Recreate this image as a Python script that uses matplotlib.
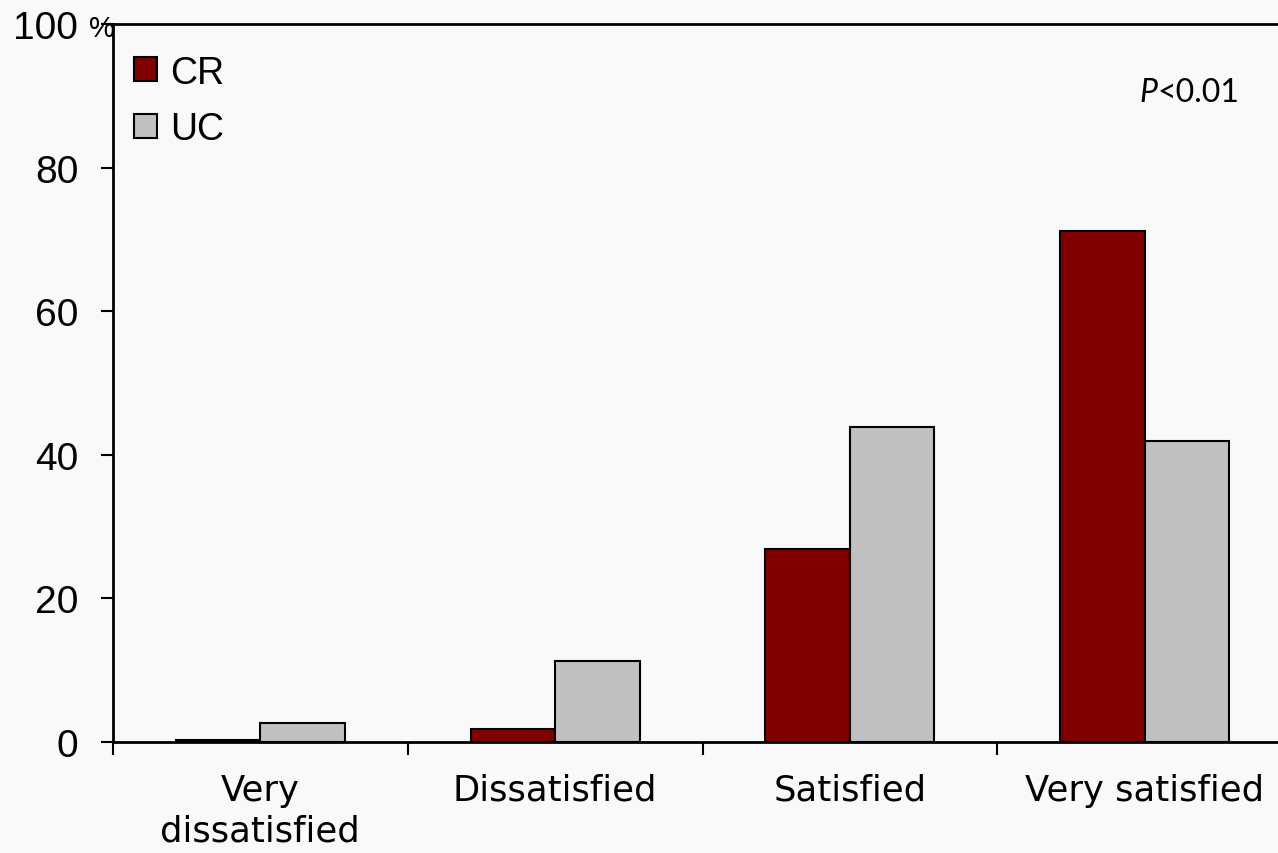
import matplotlib
matplotlib.use("Agg")
import matplotlib.pyplot as plt
import numpy as np

# satisfaction ratings, percent of respondents per group
categories = ["Very\ndissatisfied", "Dissatisfied", "Satisfied", "Very satisfied"]
cr_values = [0.3, 1.8, 26.9, 71.2]
uc_values = [2.6, 11.3, 43.9, 41.9]
y_ticks = [0, 20, 40, 60, 80, 100]

bg = "#f9f9f9"
fig = plt.figure(figsize=(12.78, 8.54), dpi=100, facecolor=bg)
ax = fig.add_axes([113 / 1278, 111 / 854, 1179 / 1278, 718 / 854], facecolor=bg)

x = np.arange(len(categories))
w = 0.287
ax.bar(x - w / 2, cr_values, w, color="#800000", edgecolor="black", linewidth=1.5, label="CR", zorder=3)
ax.bar(x + w / 2, uc_values, w, color="#c0c0c0", edgecolor="black", linewidth=1.5, label="UC", zorder=3)

ax.set_xlim(-0.5, len(categories) - 0.5)
ax.set_ylim(0, 100)

for s in ax.spines.values():
    s.set_linewidth(2)
    s.set_color("black")

ax.set_yticks(y_ticks)
ax.set_yticklabels([str(v) for v in y_ticks], fontsize=28, family="Liberation Sans")
ax.tick_params(axis="y", direction="out", length=9, width=1.5, pad=16)

# tick marks between categories, labels centred under each group
ax.set_xticks(np.arange(len(categories) + 1) - 0.5)
ax.set_xticklabels([])
ax.tick_params(axis="x", which="major", direction="out", length=9, width=1.5)
ax.set_xticks(x, minor=True)
ax.set_xticklabels(categories, minor=True, fontsize=25.5, family="DejaVu Sans", linespacing=1.25)
ax.tick_params(axis="x", which="minor", length=0, pad=22)

fig.text(89 / 1278, 1 - 29 / 854, "%", fontsize=21, family="Liberation Sans", ha="left", va="center")

ax.legend(loc="upper left", bbox_to_anchor=(-0.012, 1.007), frameon=False,
          prop={"family": "Liberation Sans", "size": 27},
          handlelength=0.6, handleheight=0.6, handletextpad=0.35,
          labelspacing=0.55, borderaxespad=0.55, borderpad=0.4)

# p-value note, italic P
p_y = 0.905
t = ax.text(0.955, p_y, "<0.01", transform=ax.transAxes, fontsize=23,
            family="Lato", ha="right", va="center")
fig.canvas.draw()
bb = t.get_window_extent().transformed(ax.transAxes.inverted())
ax.text(bb.x0, p_y, "P", transform=ax.transAxes, fontsize=23, family="Lato",
        style="italic", ha="right", va="center")

fig.savefig("out.png", dpi=100, facecolor=bg)
